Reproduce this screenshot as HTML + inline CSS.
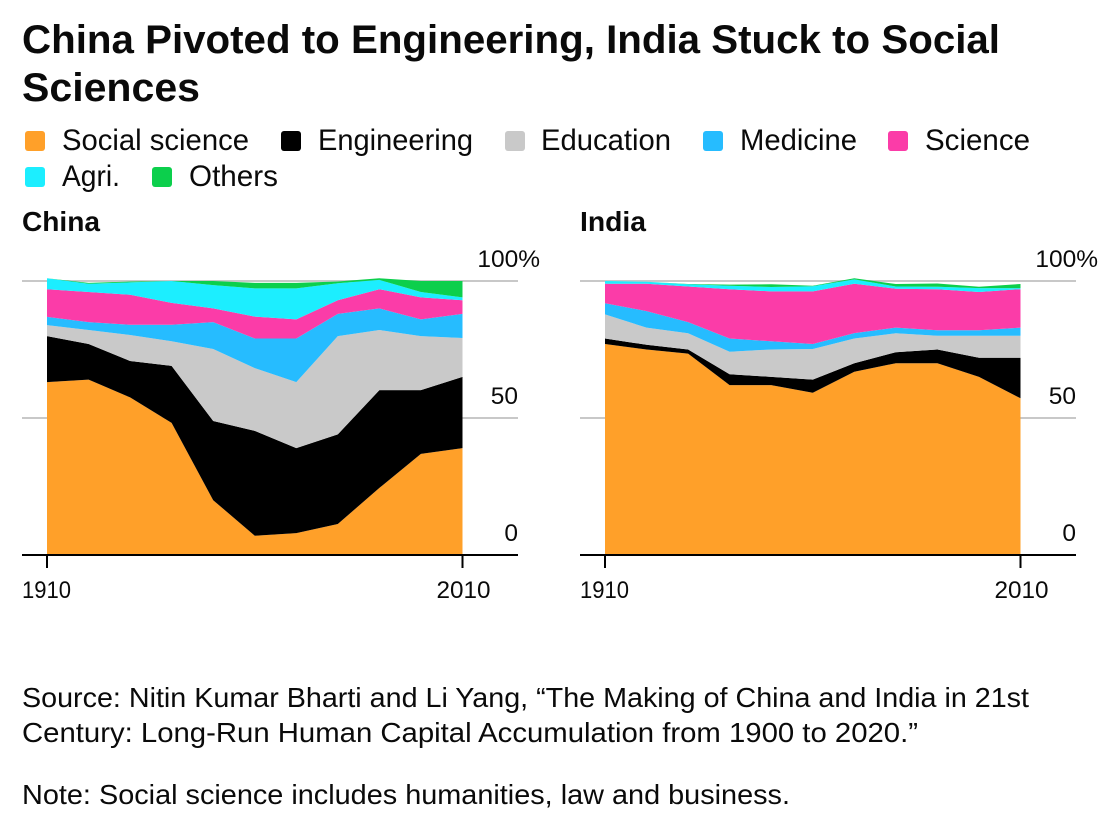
<!DOCTYPE html>
<html lang="en">
<head>
<meta charset="utf-8">
<title>China Pivoted to Engineering, India Stuck to Social Sciences</title>
<style>
html,body{margin:0;padding:0;background:#fff;width:1116px;height:834px;overflow:hidden}
svg{display:block}
text{font-family:"Liberation Sans",Arial,sans-serif;fill:#0a0a0a}
.title{font-size:40px;font-weight:700}
.legend{font-size:29.3px}
.panel{font-size:28px;font-weight:700}
.tick{font-size:24.5px}
.note{font-size:28px}
</style>
</head>
<body>
<svg id="chart" xmlns="http://www.w3.org/2000/svg" width="1116" height="834" viewBox="0 0 1116 834">
  <text class="title" x="22" y="53" textLength="978" lengthAdjust="spacingAndGlyphs">China Pivoted to Engineering, India Stuck to Social</text>
  <text class="title" x="22" y="101" textLength="178" lengthAdjust="spacingAndGlyphs">Sciences</text>

  <g>
    <rect x="25" y="131" width="20" height="20" rx="3" fill="#ffa029"/>
    <text class="legend" x="62" y="150" textLength="187" lengthAdjust="spacingAndGlyphs">Social science</text>
    <rect x="281" y="131" width="20" height="20" rx="3" fill="#000"/>
    <text class="legend" x="318" y="150" textLength="155" lengthAdjust="spacingAndGlyphs">Engineering</text>
    <rect x="505" y="131" width="20" height="20" rx="3" fill="#c9c9c9"/>
    <text class="legend" x="541" y="150" textLength="130" lengthAdjust="spacingAndGlyphs">Education</text>
    <rect x="703" y="131" width="20" height="20" rx="3" fill="#26bcff"/>
    <text class="legend" x="740" y="150" textLength="117" lengthAdjust="spacingAndGlyphs">Medicine</text>
    <rect x="888" y="131" width="20" height="20" rx="3" fill="#fb3ca8"/>
    <text class="legend" x="925" y="150" textLength="105" lengthAdjust="spacingAndGlyphs">Science</text>
    <rect x="25" y="167" width="20" height="20" rx="3" fill="#1ceeff"/>
    <text class="legend" x="62" y="186" textLength="58" lengthAdjust="spacingAndGlyphs">Agri.</text>
    <rect x="152" y="167" width="20" height="20" rx="3" fill="#0ccf4c"/>
    <text class="legend" x="189" y="186" textLength="89" lengthAdjust="spacingAndGlyphs">Others</text>
  </g>

  <text class="panel" x="22" y="231" textLength="78" lengthAdjust="spacingAndGlyphs">China</text>
  <text class="panel" x="580" y="231" textLength="66" lengthAdjust="spacingAndGlyphs">India</text>

  <g id="china-panel"></g>
  <g id="india-panel"></g>

  <text class="note" x="22" y="707" textLength="1007" lengthAdjust="spacingAndGlyphs">Source: Nitin Kumar Bharti and Li Yang, “The Making of China and India in 21st</text>
  <text class="note" x="22" y="742" textLength="896" lengthAdjust="spacingAndGlyphs">Century: Long-Run Human Capital Accumulation from 1900 to 2020.”</text>
  <text class="note" x="22" y="804" textLength="768" lengthAdjust="spacingAndGlyphs">Note: Social science includes humanities, law and business.</text>
</svg>
<script>
const years = [1910, 1920, 1930, 1940, 1950, 1960, 1970, 1980, 1990, 2000, 2010];
const xTickYears = [1910, 2010];
const yTicks = [0, 50, 100];
const yTickLabels = ['0', '50', '100%'];
const seriesNames = ['social-science', 'engineering', 'education', 'medicine', 'science', 'agri', 'others'];

const chinaSocial = [63.1, 64, 57.5, 48.2, 20, 7, 8, 11.3, 24.5, 36.9, 39];
const chinaEngineering = [16.8, 13, 13.3, 20.8, 28.9, 38.3, 31, 32.7, 35.7, 23.3, 26];
const chinaEducation = [4, 5.1, 9.5, 9, 26.3, 22.9, 24.1, 35.9, 21.9, 19.7, 14.2];
const chinaMedicine = [3, 2.9, 3.7, 6, 9.8, 10.8, 15.9, 8.1, 7.9, 6.1, 8.8];
const chinaScience = [10.1, 11, 11, 8, 5, 8, 7, 5, 7, 8, 5];
const chinaAgri = [4, 3, 4.5, 8, 8.5, 10.3, 11.3, 6.2, 3.4, 2, 1];
const chinaOthers = [0, 0.3, 0.3, 0, 1.5, 2, 2, 0.6, 0.6, 4, 6];

const indiaSocial = [77, 75, 73.5, 62, 62, 59.2, 66.9, 70, 70, 65, 57.2];
const indiaEngineering = [2, 1.7, 1.5, 4, 3, 4.8, 3.1, 4, 5, 7, 14.8];
const indiaEducation = [8.8, 6.3, 5.9, 8.2, 10, 11.2, 9, 6.9, 5, 8, 8];
const indiaMedicine = [4.1, 6, 4.1, 4.8, 3, 1.8, 2, 2.1, 2, 2, 3];
const indiaScience = [7.1, 10, 13, 18, 18.2, 19.2, 18, 14.2, 15, 14, 14];
const indiaAgri = [1, 0.7, 0.8, 1.3, 1.6, 1.9, 1.6, 0.8, 0.9, 1.4, 0.4];
const indiaOthers = [0, 0, 0.1, 0.4, 1, 0.2, 0.4, 0.9, 1.2, 0.5, 1.5];

const seriesColors = ['#ffa029', '#000000', '#c9c9c9', '#26bcff', '#fb3ca8', '#1ceeff', '#0ccf4c'];
const NS = 'http://www.w3.org/2000/svg';

function yScale(v) {
  return 555 - v * 2.74;
}

function make(tag, attrs, parent) {
  const el = document.createElementNS(NS, tag);
  Object.keys(attrs).forEach(function (k) { el.setAttribute(k, attrs[k]); });
  parent.appendChild(el);
  return el;
}

function drawPanel(prefix, groupId, left, axisLeft, labelLeft, series) {
  const g = document.getElementById(groupId);
  const plotWidth = 415.5;
  const x0 = years[0];
  const x1 = years[years.length - 1];
  const xScale = function (yr) { return left + (yr - x0) / (x1 - x0) * plotWidth; };
  const axisRight = axisLeft + 496;

  yTicks.forEach(function (t, i) {
    if (t === 0) return;
    const line = make('line', { x1: axisLeft, x2: axisRight, y1: yScale(t), y2: yScale(t), stroke: '#c8c8c8', 'stroke-width': 2 }, g);
    
    
  });

  const base = years.map(function () { return 0; });
  series.forEach(function (values, s) {
    const top = values.map(function (v, i) { return base[i] + v; });
    const upper = years.map(function (yr, i) { return xScale(yr).toFixed(1) + ',' + yScale(top[i]).toFixed(1); });
    const lower = years.map(function (yr, i) { return xScale(yr).toFixed(1) + ',' + yScale(base[i]).toFixed(1); }).reverse();
    const area = make('polygon', { points: upper.concat(lower).join(' '), fill: seriesColors[s] }, g);
    
    
    top.forEach(function (v, i) { base[i] = v; });
  });

  const axis = make('line', { x1: axisLeft, x2: axisRight, y1: yScale(0), y2: yScale(0), stroke: '#000', 'stroke-width': 2 }, g);
  
  

  xTickYears.forEach(function (yr, i) {
    const tick = make('line', { x1: xScale(yr), x2: xScale(yr), y1: yScale(0), y2: 568, stroke: '#000', 'stroke-width': 2 }, g);
    
    
    const label = make('text', { class: 'tick', x: i === 0 ? labelLeft : xScale(yr) - 26, y: 598, textLength: i === 0 ? 49 : 54, lengthAdjust: 'spacingAndGlyphs' }, g);
    
    
    label.textContent = String(yr);
  });

  yTicks.forEach(function (t, i) {
    const end = t === 100 ? axisRight + 22 : axisRight;
    const label = make('text', { class: 'tick', x: end, y: yScale(t) - 14, 'text-anchor': 'end' }, g);
    
    
    label.textContent = yTickLabels[i];
  });
}

drawPanel('china', 'china-panel', 47, 22, 22, [chinaSocial, chinaEngineering, chinaEducation, chinaMedicine, chinaScience, chinaAgri, chinaOthers]);
drawPanel('india', 'india-panel', 605, 580, 580, [indiaSocial, indiaEngineering, indiaEducation, indiaMedicine, indiaScience, indiaAgri, indiaOthers]);
</script>
</body>
</html>
